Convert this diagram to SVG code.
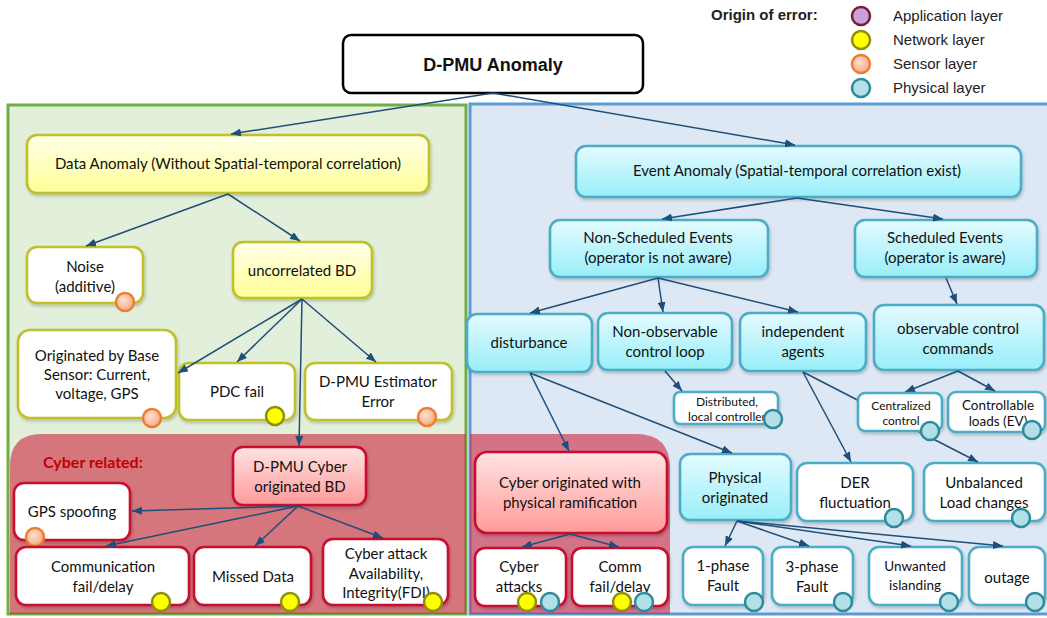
<svg xmlns="http://www.w3.org/2000/svg" width="1047" height="618" viewBox="0 0 1047 618">
<defs>
<linearGradient id="gY" x1="0" y1="0" x2="0" y2="1"><stop offset="0" stop-color="#ffffea"/><stop offset="1" stop-color="#ffff96"/></linearGradient>
<linearGradient id="gC" x1="0" y1="0" x2="0" y2="1"><stop offset="0" stop-color="#e4fbff"/><stop offset="1" stop-color="#98eef9"/></linearGradient>
<linearGradient id="gP" x1="0" y1="0" x2="0" y2="1"><stop offset="0" stop-color="#ffe3e3"/><stop offset="1" stop-color="#ff9a9a"/></linearGradient>
<radialGradient id="gS" cx="0.4" cy="0.4" r="0.6"><stop offset="0" stop-color="#fde0d0"/><stop offset="1" stop-color="#f6ad86"/></radialGradient>
<filter id="sh" x="-10%" y="-10%" width="120%" height="130%"><feDropShadow dx="1" dy="2" stdDeviation="1.5" flood-color="#000" flood-opacity="0.22"/></filter>
<marker id="ah" markerUnits="userSpaceOnUse" markerWidth="10" markerHeight="8" refX="10" refY="4" orient="auto"><path d="M0,0 L10,4 L0,8 z" fill="#1f4e79"/></marker>
</defs>
<style>
text{font-family:Lato,"Open Sans","Liberation Sans",sans-serif;font-size:15px;fill:#111;text-anchor:middle}
.lg{font-family:"Liberation Sans",Arial,sans-serif;text-anchor:start;fill:#222}
.b{stroke-width:2.6;filter:url(#sh)}
.y{fill:url(#gY);stroke:#bfc12b}
.wy{fill:#fff;stroke:#bfc12b}
.c{fill:url(#gC);stroke:#4bacc6}
.wc{fill:#fff;stroke:#4bacc6}
.p{fill:url(#gP);stroke:#c8102e}
.wp{fill:#fff;stroke:#c8102e}
.sm{font-size:12px}
.md{font-size:13.5px}
.dS{fill:url(#gS);stroke:#ed7d31;stroke-width:2.5}
.dN{fill:#ffff00;stroke:#8e8e12;stroke-width:2.5}
.dP{fill:#b3e0e7;stroke:#2e8b9b;stroke-width:2.5}
.dA{fill:#c8a2da;stroke:#7a1c33;stroke-width:2.5}
.cn line{stroke:#1f4e79;stroke-width:1.5;marker-end:url(#ah)}
</style>

<g id="panels">
<rect x="8" y="105" width="458" height="509" fill="#e2efda" stroke="#70ad47" stroke-width="3"/>
<rect x="470" y="104" width="580" height="510" fill="#dde8f4" stroke="#5b9bd5" stroke-width="3"/>
</g>
<g id="cyber-regions">
<path d="M10,614 L10,466 Q10,434 42,434 L466,434 L466,614 Z" fill="#cb253d" fill-opacity="0.6"/>
<path d="M470,614 L470,434 L636,434 Q670,434 670,468 L670,614 Z" fill="#cb253d" fill-opacity="0.6"/>
<text x="43" y="468" style="text-anchor:start;font-weight:bold;fill:#c00000;font-size:16px">Cyber related:</text>
</g>

<g id="legend">
<text class="lg" x="711" y="20" style="font-weight:bold;font-size:15px">Origin of error:</text>
<circle class="dA" cx="861" cy="16" r="9"/>
<circle class="dN" cx="861" cy="40" r="9"/>
<circle class="dS" cx="861" cy="64" r="9"/>
<circle class="dP" cx="861" cy="88" r="9"/>
<text class="lg" x="893" y="21">Application layer</text>
<text class="lg" x="893" y="45">Network layer</text>
<text class="lg" x="893" y="69">Sensor layer</text>
<text class="lg" x="893" y="93">Physical layer</text>
</g>

<g id="n-root"><rect x="343" y="35" width="300" height="58" rx="8" fill="#fff" stroke="#000" stroke-width="2.5"/><text x="493" y="71" style="font-family:'Liberation Sans',Arial,sans-serif;font-weight:bold;font-size:18px">D-PMU Anomaly</text></g>

<g id="n-data"><rect class="b y" x="27" y="135" width="402" height="58" rx="10"/><text x="228" y="169">Data Anomaly (Without Spatial-temporal correlation)</text></g>
<g id="n-noise"><rect class="b wy" x="27" y="247" width="116" height="56" rx="10"/><text x="85" y="272">Noise</text><text x="85" y="292">(additive)</text><circle class="dS" cx="125" cy="302" r="9"/></g>
<g id="n-uncorr"><rect class="b y" x="233" y="242" width="139" height="56" rx="10"/><text x="302" y="276">uncorrelated BD</text></g>
<g id="n-sensor"><rect class="b wy" x="18" y="330" width="158" height="88" rx="12"/><text x="97" y="361">Originated by Base</text><text x="97" y="380">Sensor: Current,</text><text x="97" y="399">voltage, GPS</text><circle class="dS" cx="152" cy="418" r="9"/></g>
<g id="n-pdc"><rect class="b wy" x="179" y="363" width="116" height="57" rx="10"/><text x="237" y="397">PDC fail</text><circle class="dN" cx="275" cy="416" r="9"/></g>
<g id="n-est"><rect class="b wy" x="305" y="363" width="147" height="57" rx="10"/><text x="378" y="387">D-PMU Estimator</text><text x="378" y="407">Error</text><circle class="dS" cx="427" cy="417" r="9"/></g>
<g id="n-cyberbd"><rect class="b p" x="233" y="447" width="133" height="58" rx="10"/><text x="300" y="472">D-PMU Cyber</text><text x="300" y="492">originated BD</text></g>
<g id="n-gps"><rect class="b wp" x="14" y="483" width="116" height="57" rx="10"/><text x="72" y="517">GPS spoofing</text><circle class="dS" cx="35" cy="537" r="9"/></g>
<g id="n-comm"><rect class="b wp" x="16" y="547" width="173" height="58" rx="10"/><text x="103" y="572">Communication</text><text x="103" y="592">fail/delay</text><circle class="dN" cx="161" cy="602" r="9"/></g>
<g id="n-missed"><rect class="b wp" x="194" y="547" width="117" height="58" rx="10"/><text x="253" y="582">Missed Data</text><circle class="dN" cx="290" cy="602" r="9"/></g>
<g id="n-attack"><rect class="b wp" x="323" y="539" width="125" height="66" rx="10"/><text x="386" y="559">Cyber attack</text><text x="386" y="579">Availability,</text><text x="386" y="598">Integrity(FDI)</text><circle class="dN" cx="433" cy="602" r="9"/></g>

<g id="n-event"><rect class="b c" x="576" y="146" width="445" height="51" rx="10"/><text x="797" y="176">Event Anomaly (Spatial-temporal correlation exist)</text></g>
<g id="n-nonsched"><rect class="b c" x="550" y="220" width="218" height="57" rx="10"/><text x="658" y="243">Non-Scheduled Events</text><text x="658" y="263">(operator is not aware)</text></g>
<g id="n-sched"><rect class="b c" x="855" y="220" width="182" height="57" rx="10"/><text x="945" y="243">Scheduled Events</text><text x="945" y="263">(operator is aware)</text></g>
<g id="n-disturb"><rect class="b c" x="467" y="314" width="125" height="58" rx="10"/><text x="529" y="348">disturbance</text></g>
<g id="n-nonobs"><rect class="b c" x="598" y="313" width="134" height="57" rx="10"/><text x="665" y="337">Non-observable</text><text x="665" y="357">control loop</text></g>
<g id="n-indep"><rect class="b c" x="740" y="313" width="126" height="58" rx="10"/><text x="803" y="337">independent</text><text x="803" y="357">agents</text></g>
<g id="n-observ"><rect class="b c" x="874" y="305" width="170" height="65" rx="10"/><text x="958" y="334">observable control</text><text x="958" y="354">commands</text></g>
<g id="n-distrib"><rect class="b wc" x="674" y="392" width="104" height="32" rx="6"/><text class="sm" x="727" y="406">Distributed,</text><text class="sm" x="727" y="421">local controller</text><circle class="dP" cx="773" cy="419" r="9"/></g>
<g id="n-ctrlload"><rect class="b wc" x="948" y="392" width="97" height="40" rx="8"/><text class="md" x="998" y="410">Controllable</text><text class="md" x="998" y="426">loads (EV)</text><circle class="dP" cx="1032" cy="430" r="9"/></g>
<g id="n-cyberphys"><rect class="b p" x="475" y="452" width="192" height="81" rx="12"/><text x="570" y="488">Cyber originated with</text><text x="570" y="508">physical ramification</text></g>
<g id="n-cattacks"><rect class="b wp" x="475" y="548" width="91" height="58" rx="10"/><text x="519" y="572">Cyber</text><text x="519" y="592">attacks</text><circle class="dN" cx="527" cy="602" r="9"/><circle class="dP" cx="550" cy="602" r="9"/></g>
<g id="n-commfd"><rect class="b wp" x="572" y="548" width="96" height="58" rx="10"/><text x="620" y="572">Comm</text><text x="620" y="592">fail/delay</text><circle class="dN" cx="622" cy="602" r="9"/><circle class="dP" cx="644" cy="602" r="9"/></g>
<g id="n-physorig"><rect class="b c" x="680" y="454" width="111" height="66" rx="10"/><text x="735" y="483">Physical</text><text x="735" y="503">originated</text></g>
<g id="n-der"><rect class="b wc" x="797" y="463" width="116" height="58" rx="10"/><text x="855" y="488">DER</text><text x="855" y="508">fluctuation</text><circle class="dP" cx="894" cy="518" r="9"/></g>
<g id="n-unbal"><rect class="b wc" x="924" y="463" width="121" height="58" rx="10"/><text x="984" y="488">Unbalanced</text><text x="984" y="508">Load changes</text><circle class="dP" cx="1021" cy="518" r="9"/></g>
<g id="n-ph1"><rect class="b wc" x="683" y="547" width="80" height="58" rx="10"/><text x="723" y="571">1-phase</text><text x="723" y="591">Fault</text><circle class="dP" cx="754" cy="602" r="9"/></g>
<g id="n-ph3"><rect class="b wc" x="772" y="547" width="81" height="58" rx="10"/><text x="812" y="572">3-phase</text><text x="812" y="592">Fault</text><circle class="dP" cx="843" cy="602" r="9"/></g>
<g id="n-island"><rect class="b wc" x="869" y="547" width="93" height="58" rx="10"/><text class="md" x="915" y="571">Unwanted</text><text class="md" x="915" y="590">islanding</text><circle class="dP" cx="949" cy="602" r="9"/></g>
<g id="n-outage"><rect class="b wc" x="969" y="547" width="76" height="58" rx="10"/><text x="1007" y="583">outage</text><circle class="dP" cx="1035" cy="602" r="9"/></g>

<g id="connectors" class="cn">
<line x1="493" y1="93" x2="231" y2="134"/>
<line x1="493" y1="93" x2="795" y2="145"/>
<line x1="228" y1="194" x2="86" y2="246"/>
<line x1="228" y1="194" x2="300" y2="241"/>
<line x1="302" y1="299" x2="178" y2="373"/>
<line x1="302" y1="299" x2="237" y2="362"/>
<line x1="302" y1="299" x2="376" y2="362"/>
<line x1="302" y1="299" x2="299" y2="446"/>
<line x1="298" y1="506" x2="132" y2="511"/>
<line x1="298" y1="506" x2="106" y2="546"/>
<line x1="298" y1="506" x2="255" y2="546"/>
<line x1="298" y1="506" x2="383" y2="538"/>
<line x1="797" y1="198" x2="662" y2="219"/>
<line x1="797" y1="198" x2="943" y2="219"/>
<line x1="658" y1="278" x2="530" y2="313"/>
<line x1="658" y1="278" x2="663" y2="312"/>
<line x1="658" y1="278" x2="798" y2="312"/>
<line x1="946" y1="278" x2="957" y2="304"/>
<line x1="665" y1="371" x2="682" y2="391"/>
<line x1="530" y1="373" x2="569" y2="451"/>
<line x1="530" y1="373" x2="732" y2="453"/>
<line x1="803" y1="372" x2="851" y2="462"/>
<line x1="803" y1="372" x2="978" y2="462"/>
<line x1="958" y1="371" x2="905" y2="392"/>
<line x1="958" y1="371" x2="995" y2="391"/>
<line x1="570" y1="534" x2="522" y2="547"/>
<line x1="570" y1="534" x2="619" y2="547"/>
<line x1="737" y1="521" x2="725" y2="546"/>
<line x1="737" y1="521" x2="809" y2="546"/>
<line x1="737" y1="521" x2="911" y2="546"/>
<line x1="737" y1="521" x2="1003" y2="546"/>
</g>

<g id="n-central"><rect class="b wc" x="858" y="393" width="84" height="38" rx="7"/><text class="sm" x="901" y="410">Centralized</text><text class="sm" x="901" y="425">control</text><circle class="dP" cx="930" cy="431" r="9"/></g>
</svg>
